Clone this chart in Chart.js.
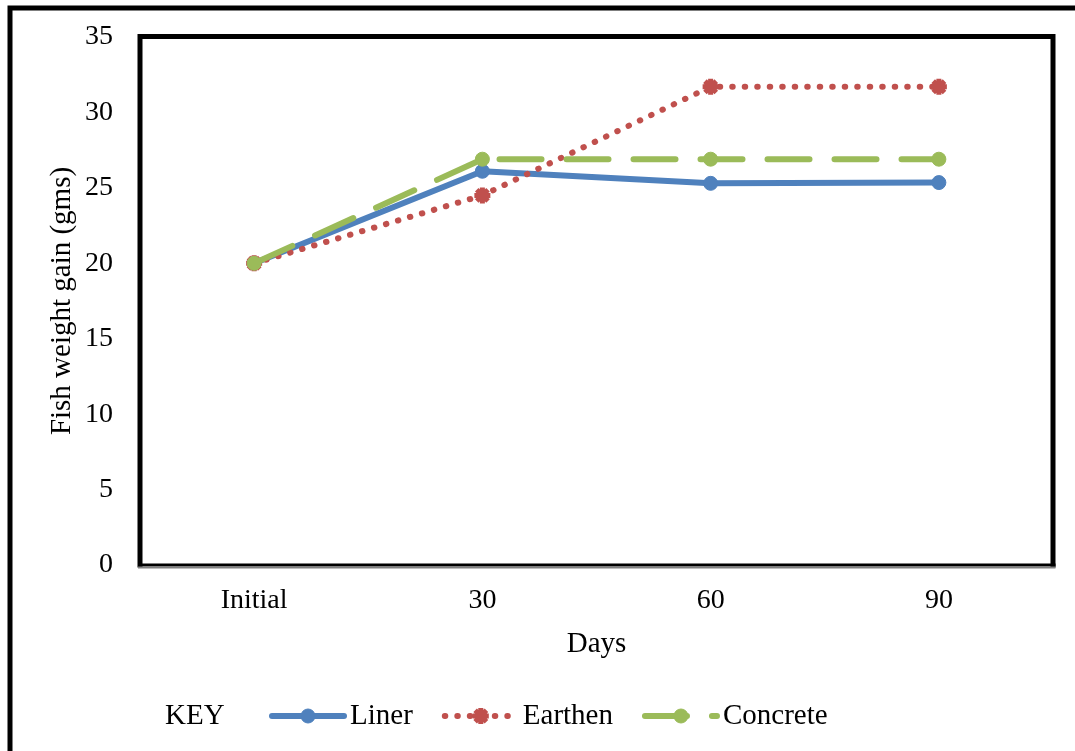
<!DOCTYPE html>
<html>
<head>
<meta charset="utf-8">
<script src="https://cdn.jsdelivr.net/npm/chart.js@4/dist/chart.umd.min.js"></script>
<style>
  html, body { margin: 0; padding: 0; background: #fff; }
  #wrap { width: 1075px; height: 751px; position: relative; }
</style>
</head>
<body>
<div id="wrap"><canvas id="chart"></canvas></div>
<script>
// sampling points and mean fish weight (gms) per pond type
const days = ["Initial", "30", "60", "90"];
const liner = [20, 26.1, 25.3, 25.35];
const earthen = [20, 24.5, 31.7, 31.7];
const concrete = [20, 26.9, 26.9, 26.9];
const yTicks = [0, 5, 10, 15, 20, 25, 30, 35];

const SERIF = "'Liberation Serif', 'Times New Roman', serif";
const BLUE = "#4f81bd", RED = "#c0504d", GREEN = "#9bbb59";

// boxes round the whole figure and the plot area
const framePlugin = {
    id: "frames",
    afterDraw(chart) {
        const { ctx, chartArea: a } = chart;
        ctx.save();
        ctx.strokeStyle = "#000";
        ctx.lineCap = "square";
        // outer frame (left + top only, rest falls off the page)
        ctx.lineWidth = 5;
        ctx.beginPath();
        ctx.moveTo(10, 751); ctx.lineTo(10, 8); ctx.lineTo(1075, 8);
        ctx.stroke();
        // plot box
        ctx.lineWidth = 5;
        ctx.beginPath();
        ctx.moveTo(a.left, a.bottom); ctx.lineTo(a.left, a.top - 0.5);
        ctx.lineTo(a.right, a.top - 0.5); ctx.lineTo(a.right, a.bottom);
        ctx.stroke();
        ctx.lineCap = "butt";
        ctx.lineWidth = 3;
        ctx.beginPath();
        ctx.moveTo(a.left - 2, a.bottom); ctx.lineTo(a.right + 2.5, a.bottom);
        ctx.stroke();
        ctx.strokeStyle = "#808080";
        ctx.lineWidth = 2;
        ctx.beginPath();
        ctx.moveTo(a.left - 2, a.bottom + 2.5); ctx.lineTo(a.right + 2.5, a.bottom + 2.5);
        ctx.stroke();
        ctx.restore();
    }
};

// "KEY" legend row along the bottom
const keyPlugin = {
    id: "keyLegend",
    afterDraw(chart) {
        const { ctx } = chart;
        const y = 716;
        ctx.save();
        ctx.font = "29px " + SERIF;
        ctx.fillStyle = "#000";
        ctx.textBaseline = "middle";
        ctx.textAlign = "left";
        ctx.fillText("KEY", 165, y);

        let x = 272;
        chart.data.datasets.forEach(ds => {
            ctx.save();
            ctx.strokeStyle = ds.borderColor;
            ctx.lineWidth = ds.borderWidth;
            ctx.lineCap = ds.borderCapStyle || "butt";
            ctx.setLineDash(ds.borderDash || []);
            ctx.beginPath();
            ctx.moveTo(x, y); ctx.lineTo(x + 72, y);
            ctx.stroke();
            ctx.restore();

            ctx.save();
            ctx.fillStyle = ds.pointBackgroundColor;
            ctx.strokeStyle = ds.pointBorderColor;
            ctx.lineWidth = ds.pointBorderWidth;
            Chart.helpers.drawPoint(ctx, {
                pointStyle: ds.pointStyle,
                radius: ds.pointRadius,
                borderWidth: ds.pointBorderWidth
            }, x + 36, y);
            ctx.restore();

            ctx.fillStyle = "#000";
            ctx.fillText(ds.label, x + 78, y);
            x += 78 + ctx.measureText(ds.label).width + 32;
        });
        ctx.restore();
    }
};

function series(label, data, color, extra) {
    return Object.assign({
        label, data,
        borderColor: color,
        backgroundColor: color,
        pointBackgroundColor: color,
        pointBorderColor: color,
        borderWidth: 6,
        borderCapStyle: "round",
        borderJoinStyle: "round",
        pointStyle: "circle",
        pointRadius: 7,
        pointBorderWidth: 1,
        pointHoverRadius: 7,
        tension: 0,
        fill: false
    }, extra);
}

const ctx = document.getElementById("chart").getContext("2d");
new Chart(ctx, {
    type: "line",
    data: {
        labels: days,
        datasets: [
            series("Liner", liner, BLUE, { order: 3 }),
            series("Earthen", earthen, RED, {
                order: 2, borderDash: [0.5, 12], pointStyle: "star", pointRadius: 8, pointBorderWidth: 5
            }),
            series("Concrete", concrete, GREEN, { order: 1, borderDash: [42, 25] })
        ]
    },
    options: {
        responsive: true,
        maintainAspectRatio: false,
        animation: false,
        layout: { padding: { top: 37, right: 22, left: 0, bottom: 0 } },
        plugins: {
            legend: { display: false },
            tooltip: { enabled: false }
        },
        scales: {
            x: {
                offset: true,
                grid: { display: false, drawTicks: false, tickLength: 0 },
                border: { display: false },
                ticks: { color: "#000", font: { family: SERIF, size: 28 }, padding: 19, maxRotation: 0 },
                title: { display: true, text: "Days", color: "#000", font: { family: SERIF, size: 29 }, padding: { top: 0, bottom: 89 } },
                afterFit: s => { s.height = 186; }
            },
            y: {
                min: 0, max: 35,
                grid: { display: false, drawTicks: false, tickLength: 0 },
                border: { display: false },
                ticks: { color: "#000", font: { family: SERIF, size: 28, lineHeight: 0.5 }, padding: 27, stepSize: 5 },
                afterBuildTicks: s => { s.ticks = yTicks.map(v => ({ value: v })); },
                title: { display: true, text: "Fish weight gain (gms)", color: "#000", font: { family: SERIF, size: 29 }, padding: { top: 45, bottom: 0 } },
                afterFit: s => { s.width = 140; }
            }
        }
    },
    plugins: [framePlugin, keyPlugin]
});
</script>
</body>
</html>
